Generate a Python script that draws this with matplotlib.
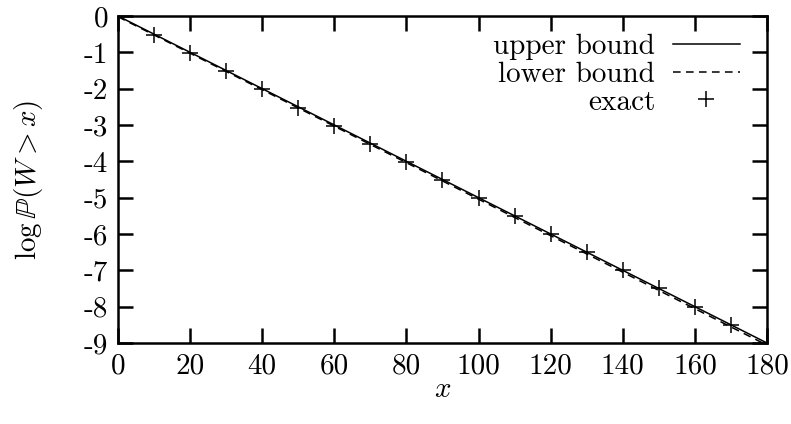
import numpy as np
import matplotlib
matplotlib.use("Agg")
import matplotlib.pyplot as plt
from matplotlib.ticker import FixedLocator, FixedFormatter

# Data
x_bound = [0, 180]
upper_bound = [0.0, -9.0]
lower_bound = [-0.02, -9.06]
x_exact = [0, 10, 20, 30, 40, 50, 60, 70, 80, 90, 100, 110, 120, 130, 140, 150, 160, 170, 180]
y_exact = [0.0, -0.52, -1.02, -1.52, -2.02, -2.52, -3.02, -3.51, -4.01, -4.51,
           -5.01, -5.51, -6.0, -6.5, -7.0, -7.5, -8.0, -8.5, -9.0]
xticks = [0, 20, 40, 60, 80, 100, 120, 140, 160, 180]
yticks = [0, -1, -2, -3, -4, -5, -6, -7, -8, -9]
ytick_labels = ["0", "-1", "-2", "-3", "-4", "-5", "-6", "-7", "-8", "-9"]

plt.rcParams['font.family'] = 'serif'
plt.rcParams['font.serif'] = ['cmr10', 'DejaVu Serif']
plt.rcParams['mathtext.fontset'] = 'cm'
plt.rcParams['axes.unicode_minus'] = False

FS = 21

fig = plt.figure(figsize=(7.91, 4.24), dpi=100)
ax = fig.add_axes([118/791, 1-343/424, (767-118)/791, (343-16)/424])

lw = 1.1
ax.plot(x_bound, upper_bound, '-', color='black', lw=lw, label='upper bound')
ax.plot(x_bound, lower_bound, '--', color='black', lw=lw, dashes=(5, 3.5), label='lower bound')
ax.plot(x_exact, y_exact, '+', color='black', ms=11, mew=1.1, ls='none', label='exact')

ax.set_xlim(0, 180)
ax.set_ylim(-9, 0)
ax.xaxis.set_major_locator(FixedLocator(xticks))
ax.xaxis.set_major_formatter(FixedFormatter([str(v) for v in xticks]))
ax.yaxis.set_major_locator(FixedLocator(yticks))
ax.yaxis.set_major_formatter(FixedFormatter(ytick_labels))
ax.tick_params(direction='in', length=11, width=1.8, top=True, right=True,
               labelsize=FS, pad=7)
for s in ax.spines.values():
    s.set_linewidth(1.8)

ax.set_xlabel(r'$x$', fontsize=FS, labelpad=-2)
ax.set_ylabel(r'$\log\mathbb{P}(W>x)$', fontsize=FS, labelpad=28)

leg = ax.legend(loc='upper right', frameon=False, markerfirst=False, fontsize=FS,
                handlelength=2.3, handletextpad=0.6, labelspacing=0.05,
                borderaxespad=0.2, bbox_to_anchor=(0.985, 1.0))
for t in leg.get_texts():
    t.set_ha('right')

fig.savefig('out.png', dpi=100)
